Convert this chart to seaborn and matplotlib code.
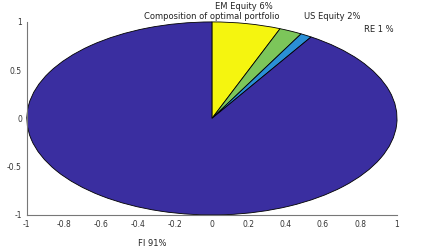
import matplotlib
matplotlib.use("Agg")
import matplotlib.pyplot as plt
import seaborn as sns
import numpy as np

labels = ["EM Equity 6%", "US Equity 2%", "RE 1 %", "FI 91%"]
values = [6, 2, 1, 91]
colors = ["#f5f50f", "#7cc65a", "#2a8fd6", "#3a2ea0"]
xticks = [-1, -0.8, -0.6, -0.4, -0.2, 0, 0.2, 0.4, 0.6, 0.8, 1]
yticks = [-1, -0.5, 0, 0.5, 1]

sns.set_style("white")
plt.rcParams["font.family"] = ["DejaVu Sans"]

fig = plt.figure(figsize=(4.26, 2.52), dpi=100)
ax = fig.add_axes([0.063, 0.147, 0.869, 0.766])

wedges, texts = ax.pie(values, labels=labels, colors=colors, startangle=90,
                       counterclock=False, labeldistance=1.2,
                       wedgeprops=dict(edgecolor="black", linewidth=0.6),
                       textprops=dict(fontsize=6, color="#222222"),
                       normalize=True, frame=True)
for t in texts:
    t.set_clip_on(False)
# FI label sits below the tick labels
texts[3].set_position((-0.32, -1.25))
texts[3].set_va("top")
texts[3].set_ha("center")
texts[0].set_va("center")
texts[0].set_ha("center")
texts[0].set_position((0.17, 1.16))
texts[1].set_position((0.50, 1.06))
texts[1].set_va("center")
texts[2].set_position((0.82, 0.92))
texts[2].set_va("center")
ax.set_aspect("auto")
ax.set_xlim(-1, 1)
ax.set_ylim(-1, 1)
ax.set_xticks(xticks)
ax.set_xticklabels([f"{t:g}" for t in xticks])
ax.set_yticks(yticks)
ax.set_yticklabels([f"{t:g}" for t in yticks])
ax.tick_params(direction="in", length=3, labelsize=5.5, colors="#555555",
               labelcolor="#333333", width=0.6)
for s in ["top", "right"]:
    ax.spines[s].set_visible(False)
for s in ["left", "bottom"]:
    ax.spines[s].set_color("#777777")
    ax.spines[s].set_linewidth(0.8)
ax.set_title("Composition of optimal portfolio", fontsize=6, pad=2, color="#222222")

fig.savefig("out.png", dpi=100)
